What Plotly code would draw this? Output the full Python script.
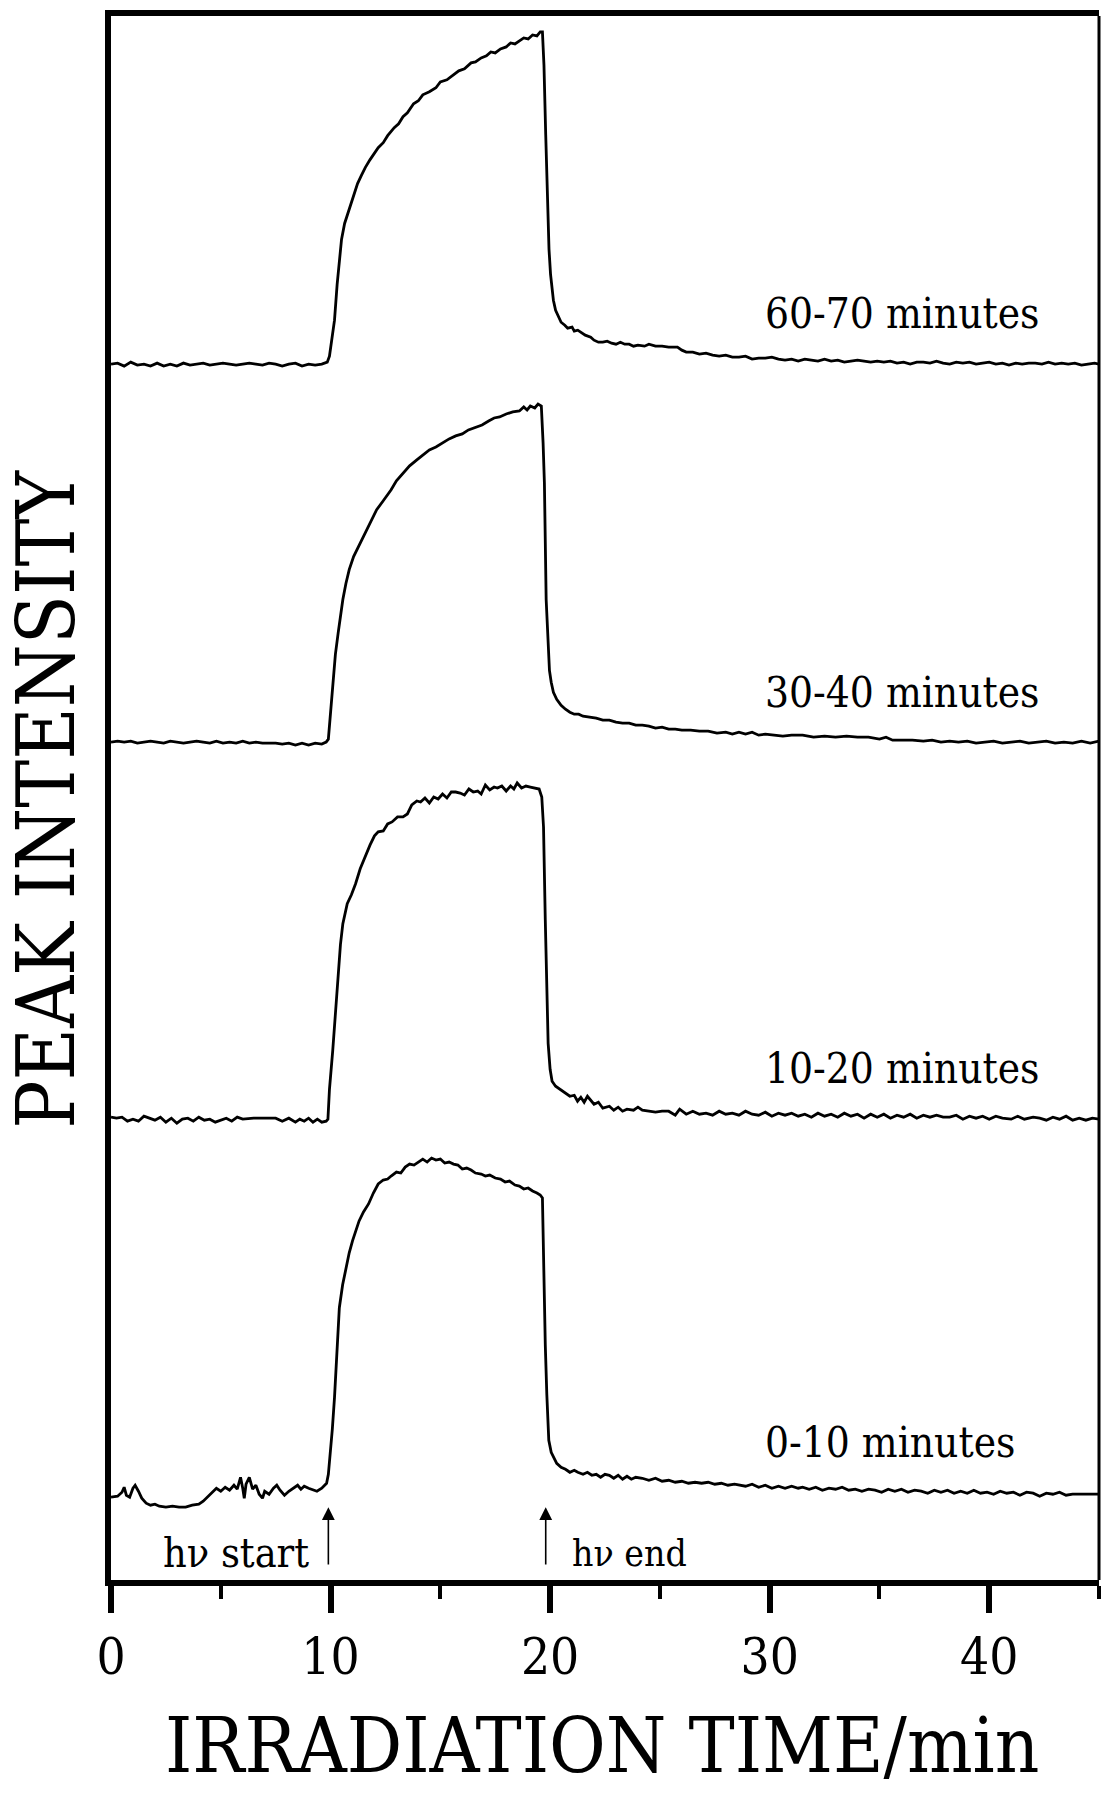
import plotly.graph_objects as go

# Peak-intensity transients (time in min, intensity above each trace's own baseline)
labels = ["60-70 minutes", "30-40 minutes", "10-20 minutes", "0-10 minutes"]
offsets = [1219, 840, 462, 86]

trace_6070 = [
    (0, 0), (0.3, 1), (0.6, -2), (0.9, 2), (1.2, -1), (1.5, 0), (1.8, -2), (2.1, 1), (2.4, -2),
    (2.7, 0), (3.0, -2), (3.3, 1), (3.6, -1), (3.9, 0), (4.2, 1), (4.5, -1), (4.8, 0), (5.1, 1),
    (5.4, 0), (5.7, -1), (6.0, 0), (6.3, 1), (6.6, 0), (6.9, -1), (7.2, 1), (7.5, 0), (7.8, -2),
    (8.1, 0), (8.4, 1), (8.7, -2), (9.0, 0), (9.3, -1), (9.6, 0),
    (9.85, 2), (9.95, 8), (10.05, 25), (10.18, 44), (10.3, 80), (10.4, 107), (10.5, 125),
    (10.64, 141), (10.8, 152), (10.94, 161), (11.1, 172), (11.23, 181), (11.4, 189), (11.58, 197),
    (11.8, 205), (12.0, 211), (12.17, 217), (12.4, 222), (12.6, 229), (12.9, 237), (13.1, 241),
    (13.3, 248), (13.5, 252), (13.78, 261), (14.0, 264), (14.2, 270), (14.5, 273), (14.8, 277),
    (15.0, 283), (15.3, 285), (15.6, 290), (15.84, 294), (16.1, 296), (16.4, 302), (16.6, 303),
    (16.86, 307), (17.1, 309), (17.3, 313), (17.5, 312), (17.74, 316), (18.0, 318), (18.2, 322),
    (18.4, 321), (18.6, 324), (18.8, 327), (19.0, 326), (19.2, 330), (19.4, 329), (19.55, 333),
    (19.65, 333),
    (19.72, 300), (19.8, 230), (19.88, 161), (19.95, 115), (20.02, 90), (20.15, 64), (20.25, 54),
    (20.38, 47), (20.5, 42), (20.67, 39), (20.8, 36), (21.0, 37), (21.1, 33), (21.26, 34),
    (21.4, 32), (21.6, 29), (21.85, 27), (22.0, 24), (22.2, 22), (22.4, 22), (22.6, 23),
    (22.8, 21), (23.0, 20), (23.2, 22), (23.4, 20), (23.6, 20), (23.8, 18), (24.0, 19),
    (24.3, 18), (24.5, 20), (24.8, 18), (25.1, 18), (25.4, 17), (25.8, 17), (26.0, 14),
    (26.2, 12), (26.5, 12), (26.8, 10), (27.1, 11), (27.4, 9), (27.7, 8), (28.0, 9), (28.3, 7),
    (28.6, 7), (28.9, 8), (29.2, 5), (29.5, 6), (29.8, 6), (30.1, 7), (30.4, 5), (30.7, 4),
    (31.0, 5), (31.3, 3), (31.6, 5), (31.9, 4), (32.2, 3), (32.5, 5), (32.8, 3), (33.1, 4),
    (33.4, 2), (33.7, 3), (34.0, 4), (34.3, 3), (34.6, 2), (34.9, 3), (35.2, 2), (35.5, 3),
    (35.8, 1), (36.1, 2), (36.4, 0), (36.7, 2), (37.0, 2), (37.3, 1), (37.6, 3), (37.9, 1),
    (38.2, 0), (38.5, 2), (38.8, 1), (39.1, 2), (39.4, 0), (39.7, 1), (40.0, 2), (40.3, 0),
    (40.6, 1), (40.9, -1), (41.2, 1), (41.5, 0), (41.8, 1), (42.1, 1), (42.4, 0), (42.7, 2),
    (43.0, 0), (43.3, 1), (43.6, 0), (43.9, 1), (44.2, -1), (44.5, 0), (44.8, 1), (45, 0),
]

trace_3040 = [
    (0, 0), (0.3, 1), (0.6, 0), (0.9, 1), (1.2, -1), (1.5, 0), (1.8, 1), (2.1, 0), (2.4, -1),
    (2.7, 1), (3.0, 0), (3.3, -1), (3.6, 0), (3.9, 1), (4.2, 0), (4.5, -1), (4.8, 1), (5.1, -1),
    (5.4, 0), (5.7, -1), (6.0, 1), (6.3, -1), (6.6, 0), (6.9, -1), (7.2, -1), (7.5, -1),
    (7.8, -2), (8.1, -1), (8.4, -3), (8.7, -1), (9.0, -3), (9.3, -1), (9.6, -2), (9.8, 0),
    (9.9, 3), (10.0, 30), (10.1, 60), (10.22, 88), (10.35, 110), (10.45, 128), (10.56, 143),
    (10.7, 159), (10.85, 173), (11.05, 186), (11.3, 197), (11.6, 211), (11.88, 223), (12.1, 233),
    (12.4, 242), (12.76, 253), (13.0, 262), (13.3, 270), (13.6, 277), (13.93, 283), (14.2, 288),
    (14.5, 293), (14.8, 296), (15.1, 300), (15.4, 304), (15.7, 307), (16.0, 309), (16.28, 313),
    (16.6, 316), (16.9, 318), (17.2, 322), (17.45, 325), (17.7, 326), (18.0, 329), (18.3, 331),
    (18.6, 332), (18.8, 336), (18.95, 333), (19.1, 337), (19.3, 335), (19.45, 339), (19.6, 337),
    (19.68, 300), (19.74, 260), (19.82, 143), (19.9, 95), (19.97, 72), (20.05, 60), (20.15, 50),
    (20.3, 43), (20.5, 37), (20.7, 33), (20.9, 30), (21.1, 28), (21.3, 28), (21.5, 26),
    (21.85, 25), (22.1, 24), (22.4, 22), (22.7, 22), (23.0, 20), (23.3, 19), (23.6, 19),
    (23.9, 17), (24.2, 17), (24.5, 16), (24.8, 14), (25.1, 15), (25.4, 13), (25.7, 13),
    (26.0, 12), (26.4, 12), (26.8, 11), (27.2, 11), (27.6, 9), (28.0, 10), (28.3, 8), (28.6, 10),
    (28.9, 8), (29.2, 10), (29.5, 7), (29.8, 8), (30.2, 7), (30.6, 6), (31.0, 7), (31.5, 7),
    (32.0, 5), (32.5, 6), (33.0, 5), (33.5, 6), (34.0, 5), (34.5, 5), (35.0, 3), (35.3, 5),
    (35.6, 2), (36.0, 2), (36.5, 2), (37.0, 1), (37.4, 2), (37.8, 0), (38.2, 1), (38.6, 0),
    (39.0, 1), (39.4, -1), (39.8, 0), (40.2, 1), (40.6, -1), (41.0, 0), (41.4, 1), (41.8, -1),
    (42.2, 0), (42.6, 1), (43.0, -1), (43.4, 0), (43.8, -1), (44.2, 1), (44.6, -1), (45, 1),
]

trace_1020 = [
    (0, 2), (0.25, 1), (0.5, 2), (0.75, -2), (1.0, 0), (1.25, -2), (1.5, 3), (1.75, 1),
    (2.0, -1), (2.25, 2), (2.5, -3), (2.75, 1), (3.0, -4), (3.25, 0), (3.5, 1), (3.75, -2),
    (4.0, 2), (4.25, -1), (4.5, 0), (4.75, -3), (5.0, -1), (5.25, 1), (5.5, -2), (5.75, 2),
    (6.0, 0), (6.5, 1), (7.0, 1), (7.5, 1), (7.8, -2), (8.1, 1), (8.4, -3), (8.6, 0), (8.8, -2),
    (9.0, 1), (9.2, -3), (9.4, 0), (9.6, -3), (9.8, -2),
    (9.88, 0), (9.95, 30), (10.1, 69), (10.22, 105), (10.35, 143), (10.45, 175), (10.56, 196),
    (10.66, 208), (10.76, 216), (10.95, 225), (11.14, 236), (11.35, 251), (11.58, 264),
    (11.8, 275), (12.0, 284), (12.17, 288), (12.4, 289), (12.6, 296), (12.8, 298), (13.05, 303),
    (13.3, 303), (13.5, 306), (13.7, 315), (13.93, 319), (14.1, 318), (14.3, 322), (14.5, 317),
    (14.7, 323), (14.9, 321), (15.1, 326), (15.3, 322), (15.5, 328), (15.7, 328), (15.9, 327),
    (16.1, 325), (16.3, 331), (16.5, 328), (16.7, 329), (16.86, 326), (17.05, 335), (17.25, 330),
    (17.45, 333), (17.6, 332), (17.8, 334), (18.0, 329), (18.2, 334), (18.35, 331), (18.5, 337),
    (18.7, 332), (18.9, 334), (19.1, 333), (19.3, 332), (19.5, 331), (19.62, 323),
    (19.7, 293), (19.78, 200), (19.84, 130), (19.91, 76), (20.0, 50), (20.09, 38), (20.25, 33),
    (20.5, 29), (20.7, 26), (20.9, 23), (21.1, 24), (21.25, 18), (21.4, 22), (21.55, 17),
    (21.7, 23), (21.85, 19), (22.0, 15), (22.2, 17), (22.4, 11), (22.7, 13), (22.9, 9),
    (23.1, 12), (23.3, 8), (23.5, 10), (23.8, 9), (24.0, 12), (24.2, 9), (24.5, 8), (24.8, 7),
    (25.1, 8), (25.4, 8), (25.7, 4), (25.9, 10), (26.2, 5), (26.5, 8), (26.8, 5), (27.1, 6),
    (27.4, 4), (27.7, 8), (28.0, 5), (28.3, 6), (28.6, 4), (28.9, 8), (29.2, 5), (29.5, 4),
    (29.8, 7), (30.1, 3), (30.4, 6), (30.7, 4), (31.0, 6), (31.3, 3), (31.6, 5), (31.9, 2),
    (32.2, 6), (32.5, 3), (32.8, 5), (33.1, 2), (33.4, 6), (33.7, 3), (34.0, 5), (34.3, 1),
    (34.6, 5), (34.9, 2), (35.2, 5), (35.5, 1), (35.8, 4), (36.1, 2), (36.4, 5), (36.7, 1),
    (37.0, 4), (37.3, 2), (37.6, 4), (37.9, 2), (38.2, 2), (38.5, 4), (38.8, 0), (39.1, 3),
    (39.4, 1), (39.7, 3), (40.0, 0), (40.3, 3), (40.6, 1), (41.0, 0), (41.3, 3), (41.6, 0),
    (42.0, 2), (42.3, 1), (42.6, -1), (42.9, 2), (43.2, 0), (43.5, 3), (43.8, -1), (44.1, 1),
    (44.4, -1), (44.7, 1), (45, 0),
]

trace_0010 = [
    (0, -3), (0.3, -2), (0.5, 2), (0.6, 7), (0.7, -1), (0.85, -3), (1.0, 6), (1.1, 9), (1.25, 3),
    (1.4, -4), (1.6, -9), (1.8, -11), (2.0, -10), (2.2, -12), (2.5, -13), (2.8, -12), (3.1, -13),
    (3.4, -13), (3.7, -11), (4.0, -10), (4.2, -7), (4.4, -3), (4.6, 2), (4.8, 6), (5.0, 3),
    (5.2, 7), (5.4, 4), (5.6, 9), (5.75, 5), (5.9, 17), (6.0, 6), (6.07, -4), (6.15, 10),
    (6.3, 17), (6.45, 5), (6.6, 9), (6.75, 0), (6.9, -4), (7.0, 3), (7.2, 0), (7.4, 6), (7.55, 9),
    (7.7, 4), (7.9, -1), (8.1, 3), (8.3, 6), (8.5, 9), (8.65, 5), (8.8, 8), (9.0, 6), (9.2, 4),
    (9.38, 3), (9.6, 6), (9.82, 11),
    (9.9, 20), (9.97, 37), (10.08, 65), (10.18, 97), (10.3, 145), (10.4, 187), (10.55, 210),
    (10.7, 227), (10.85, 242), (11.0, 254), (11.15, 265), (11.3, 274), (11.5, 283), (11.73, 291),
    (11.95, 302), (12.17, 311), (12.4, 315), (12.6, 316), (12.76, 319), (13.0, 323), (13.2, 322),
    (13.4, 328), (13.6, 331), (13.8, 330), (14.0, 333), (14.2, 336), (14.4, 333), (14.6, 337),
    (14.8, 335), (15.0, 336), (15.2, 332), (15.4, 333), (15.6, 331), (15.8, 330), (16.0, 326),
    (16.2, 327), (16.4, 325), (16.6, 322), (16.86, 321), (17.05, 319), (17.25, 320), (17.5, 317),
    (17.74, 316), (17.95, 313), (18.15, 314), (18.4, 310), (18.6, 309), (18.8, 306), (19.0, 307),
    (19.2, 304), (19.4, 302), (19.55, 300), (19.65, 297),
    (19.7, 221), (19.78, 150), (19.85, 100), (19.94, 54), (20.05, 42), (20.15, 37), (20.3, 31),
    (20.5, 27), (20.7, 25), (20.9, 22), (21.1, 24), (21.26, 22), (21.5, 20), (21.7, 22),
    (21.9, 19), (22.1, 20), (22.3, 17), (22.5, 20), (22.7, 19), (22.9, 16), (23.1, 19),
    (23.3, 15), (23.5, 18), (23.7, 15), (23.9, 17), (24.2, 16), (24.5, 14), (24.8, 16),
    (25.1, 13), (25.4, 14), (25.7, 12), (26.0, 13), (26.3, 11), (26.6, 12), (26.9, 11),
    (27.2, 12), (27.5, 10), (27.8, 11), (28.1, 9), (28.4, 10), (28.6, 9), (28.9, 8), (29.2, 10),
    (29.5, 7), (29.8, 9), (30.1, 6), (30.4, 8), (30.7, 6), (31.0, 8), (31.3, 6), (31.5, 7),
    (31.8, 5), (32.1, 7), (32.4, 4), (32.7, 6), (33.0, 5), (33.3, 7), (33.6, 4), (33.9, 5),
    (34.2, 3), (34.5, 5), (34.8, 4), (35.1, 2), (35.4, 5), (35.7, 3), (36.0, 5), (36.3, 2),
    (36.6, 4), (36.9, 3), (37.2, 1), (37.5, 4), (37.8, 2), (38.1, 4), (38.4, 1), (38.7, 3),
    (39.0, 1), (39.3, 4), (39.6, 1), (39.9, 2), (40.2, 0), (40.5, 3), (40.8, 1), (41.1, 2),
    (41.4, -1), (41.7, 2), (42.0, 1), (42.3, -2), (42.6, 1), (42.9, 0), (43.2, 2), (43.5, -1),
    (43.8, 0), (44.1, 0), (44.4, 0), (44.7, 0), (45, 0),
]

traces = [trace_6070, trace_3040, trace_1020, trace_0010]
label_y = [1270, 890, 513, 138]

x_ticks = [0, 10, 20, 30, 40]
x_tick_text = ["0", "10", "20", "30", "40"]
lamp_on, lamp_off = 9.9, 19.8

FONT = "DejaVu Serif Condensed, Liberation Serif, serif"

fig = go.Figure()
for pts, off in zip(traces, offsets):
    fig.add_trace(go.Scatter(
        x=[p[0] for p in pts],
        y=[p[1] + off for p in pts],
        mode="lines",
        line=dict(color="black", width=2.8),
        showlegend=False,
        hoverinfo="skip",
    ))

annotations = []
for text, y in zip(labels, label_y):
    annotations.append(dict(x=29.7, y=y, xref="x", yref="y", text=text, showarrow=False,
                            xanchor="left", yanchor="middle",
                            font=dict(family=FONT, size=42, color="black")))

# irradiation start / end markers
for xa in (lamp_on, lamp_off):
    annotations.append(dict(x=xa, y=73, ax=xa, ay=14, xref="x", yref="y", axref="x", ayref="y",
                            text="", showarrow=True, arrowhead=2, arrowsize=1.6,
                            arrowwidth=1.6, arrowcolor="black"))
annotations.append(dict(x=9.1, y=27, xref="x", yref="y", text="h\u03bd start", showarrow=False,
                        xanchor="right", yanchor="middle",
                        font=dict(family=FONT, size=41, color="black")))
annotations.append(dict(x=20.9, y=27, xref="x", yref="y", text="h\u03bd end", showarrow=False,
                        xanchor="left", yanchor="middle",
                        font=dict(family=FONT, size=37, color="black")))

# axis titles
annotations.append(dict(x=0.497, y=-0.1355, xref="paper", yref="paper",
                        text="IRRADIATION TIME/min", showarrow=False,
                        xanchor="center", yanchor="bottom",
                        font=dict(family=FONT, size=77, color="black")))
annotations.append(dict(x=-0.0655, y=0.499, xref="paper", yref="paper",
                        text="PEAK INTENSITY", showarrow=False, textangle=-90,
                        xanchor="center", yanchor="middle",
                        font=dict(family=FONT, size=80, color="black")))

fig.update_layout(
    width=1109, height=1795,
    margin=dict(l=111, r=10, t=10, b=215),
    paper_bgcolor="white", plot_bgcolor="white",
    annotations=annotations,
    shapes=[dict(type="line", xref="paper", yref="paper", x0=1, x1=1, y0=0, y1=1,
                 line=dict(color="black", width=3))],
)
fig.update_xaxes(
    range=[0, 45], showgrid=False, zeroline=False,
    showline=True, linecolor="black", linewidth=5.5, mirror=True,
    tickmode="array", tickvals=x_ticks, ticktext=x_tick_text,
    ticks="outside", ticklen=27, tickwidth=5.5, tickcolor="black",
    tickfont=dict(family=FONT, size=51, color="black"),
    minor=dict(dtick=5, tick0=0, ticks="outside", ticklen=13, tickwidth=3.5, tickcolor="black"),
)
fig.update_yaxes(
    range=[0, 1568], showgrid=False, zeroline=False,
    showline=True, linecolor="black", linewidth=5.5, mirror=False,
    showticklabels=False, ticks="",
)

fig.write_html("out.html")
